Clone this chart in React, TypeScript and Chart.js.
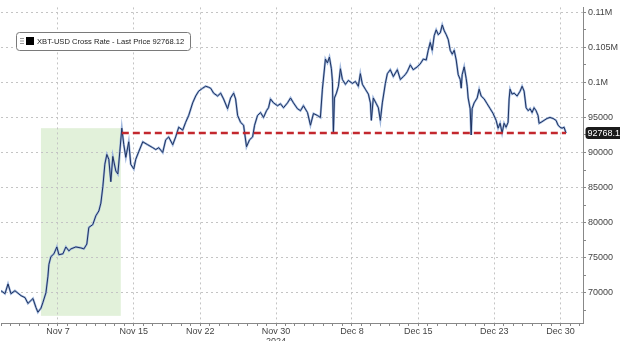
import React, { useEffect, useRef } from 'react';
import { Chart, registerables } from 'chart.js';

Chart.register(...registerables);

// Days since Nov 1, 2024 (fractional)
const days = [
  0, 0.42, 0.74, 1.05, 1.47, 2.11, 2.53, 2.84, 3.16, 3.37, 3.68, 3.89, 4.21, 4.42, 4.74, 4.95, 5.05, 5.26, 5.58, 5.89,
  6.11, 6.53, 6.84, 7.16, 7.37, 7.89, 8.42, 8.74, 9.05, 9.26, 9.68, 10.0, 10.32, 10.53, 10.74, 10.95, 11.16, 11.37, 11.58, 11.79,
  12.11, 12.32, 12.53, 12.74, 12.95, 13.16, 13.47, 13.68, 14.0, 14.21, 14.53, 14.95, 15.47, 16.0, 16.32, 16.63, 17.05, 17.37, 17.68, 18.11,
  18.42, 18.74, 19.16, 19.47, 19.79, 20.21, 20.53, 20.84, 21.26, 21.58, 21.89, 22.11, 22.42, 22.84, 23.16, 23.47, 23.89, 24.21, 24.53, 24.74,
  24.95, 25.26, 25.58, 25.89, 26.21, 26.53, 26.74, 27.05, 27.37, 27.68, 28.0, 28.21, 28.42, 28.74, 29.16, 29.47, 29.79, 30.21, 30.53, 30.84,
  31.26, 31.58, 31.89, 32.32, 32.63, 32.95, 33.37, 33.68, 33.89, 34.21, 34.42, 34.63, 34.84, 34.95, 35.05, 35.16, 35.37, 35.58, 35.79, 36.0,
  36.32, 36.63, 37.05, 37.37, 37.68, 37.89, 38.11, 38.42, 38.74, 38.95, 39.05, 39.26, 39.58, 39.79, 40.0, 40.21, 40.53, 40.74, 41.05, 41.37,
  41.79, 42.11, 42.42, 42.63, 42.84, 43.16, 43.47, 43.89, 44.21, 44.53, 44.84, 45.05, 45.26, 45.47, 45.68, 45.89, 46.11, 46.32, 46.53, 46.74,
  46.95, 47.16, 47.37, 47.58, 47.79, 48.0, 48.21, 48.42, 48.53, 48.63, 48.84, 49.05, 49.16, 49.26, 49.47, 49.58, 49.68, 49.89, 50.21, 50.42,
  50.63, 50.95, 51.26, 51.58, 51.89, 52.21, 52.42, 52.63, 52.84, 53.05, 53.26, 53.47, 53.58, 53.68, 53.89, 54.11, 54.42, 54.74, 54.95, 55.16,
  55.26, 55.37, 55.58, 55.79, 56.0, 56.21, 56.42, 56.63, 56.74, 56.95, 57.26, 57.58, 57.89, 58.21, 58.53, 58.74, 58.95, 59.16, 59.37, 59.58,
];

const prices = [
  70280, 69860, 71250, 69860, 70280, 69580, 69300, 68470, 68890, 69170, 67920, 67220, 67780, 68610, 70000, 72360, 74030, 75140, 75550, 76530,
  75420, 75550, 76530, 75970, 76250, 76530, 76390, 76250, 76940, 79310, 79720, 80970, 81670, 82780, 85140, 88330, 89720, 89030, 85830, 89440,
  87360, 86940, 90140, 93470, 91110, 89310, 91530, 88330, 87640, 89030, 90140, 91530, 91110, 90690, 90420, 90690, 90000, 91810, 92220, 91110,
  92220, 93610, 93190, 94310, 95280, 97080, 98060, 98750, 99170, 99450, 99310, 99170, 98470, 98060, 98470, 97640, 96250, 97780, 98470, 97640,
  95280, 94310, 93890, 90830, 91810, 92220, 93890, 95280, 95700, 95000, 95970, 96390, 97640, 97080, 96670, 96950, 96390, 97080, 97780, 97080,
  96250, 95970, 96670, 95700, 93890, 95560, 95280, 95000, 99030, 103330, 102780, 103610, 101950, 100140, 92780, 97780, 98470, 99450, 101950, 100420,
  99720, 100280, 99860, 100140, 99450, 101250, 99720, 99030, 98330, 97080, 94580, 97780, 96950, 96390, 94580, 97080, 99860, 101250, 101810, 100830,
  101810, 100420, 100830, 101110, 101530, 102500, 101810, 102220, 102640, 103330, 103200, 104580, 105700, 104580, 106670, 107500, 106810, 107080, 108200, 107360,
  106810, 106110, 104580, 104030, 104580, 103200, 101110, 100420, 99170, 101110, 102220, 100560, 99450, 97780, 96250, 92500, 96250, 97080, 97780, 99030,
  98060, 97640, 96950, 96250, 95560, 94580, 93470, 94170, 92780, 94170, 93610, 94310, 97640, 99030, 98330, 98470, 98060, 98750, 99450, 98750,
  97640, 96390, 95970, 96250, 95700, 96390, 95970, 95280, 94170, 94310, 94580, 94860, 95000, 94860, 94580, 93890, 93610, 93470, 93610, 92768.12,
];

const lastPrice = 92768.12;
const lastPriceLineDays = [12.74, 59.58];
const shadeDays = [4.21, 12.63];
const shadePrices = [66700, 93470];

const xTickDays = [6, 14, 21, 29, 37, 44, 52, 59];
const xTickLabels: (string | string[])[] = ['Nov 7', 'Nov 15', 'Nov 22', ['Nov 30', '2024'], 'Dec 8', 'Dec 15', 'Dec 23', 'Dec 30'];
const yTickValues = [70000, 75000, 80000, 85000, 90000, 95000, 100000, 105000, 110000];
const yTickLabels = ['70000', '75000', '80000', '85000', '90000', '95000', '0.1M', '0.105M', '0.11M'];
const legendText = 'XBT-USD Cross Rate - Last Price 92768.12';
const lastPriceLabel = '92768.12';

const FONT = "'Liberation Sans', Arial, sans-serif";

export default function App() {
  const ref = useRef<HTMLCanvasElement | null>(null);

  useEffect(() => {
    const canvas = ref.current;
    if (!canvas) return;
    Chart.defaults.font.family = FONT;

    const linePts = days.map((d, i) => ({ x: d, y: prices[i] }));
    const redPts = lastPriceLineDays.map((d) => ({ x: d, y: lastPrice }));

    const shadePlugin = {
      id: 'shade',
      beforeDraw(chart: any) {
        const { ctx, scales } = chart;
        const x0 = scales.x.getPixelForValue(shadeDays[0]);
        const x1 = scales.x.getPixelForValue(shadeDays[1]);
        const y0 = scales.y.getPixelForValue(shadePrices[1]);
        const y1 = scales.y.getPixelForValue(shadePrices[0]);
        ctx.save();
        ctx.fillStyle = '#e2f1da';
        ctx.fillRect(x0, y0, x1 - x0, y1 - y0);
        ctx.restore();
      },
    };

    const overlayPlugin = {
      id: 'overlay',
      afterDraw(chart: any) {
        const { ctx, scales } = chart;
        ctx.save();
        // legend box
        const bx = 16.5, by = 32.5, bw = 174, bh = 18;
        ctx.beginPath();
        ctx.roundRect(bx, by, bw, bh, 3);
        ctx.fillStyle = '#ffffff';
        ctx.fill();
        ctx.strokeStyle = '#7a7a7a';
        ctx.lineWidth = 1;
        ctx.stroke();
        // menu icon
        ctx.strokeStyle = '#999';
        ctx.lineWidth = 1;
        for (let i = 0; i < 3; i++) {
          ctx.beginPath();
          ctx.moveTo(20, 38.5 + i * 2.5);
          ctx.lineTo(24, 38.5 + i * 2.5);
          ctx.stroke();
        }
        ctx.fillStyle = '#000';
        ctx.fillRect(26, 37, 8, 8);
        ctx.fillStyle = '#222';
        ctx.font = `7.6px ${FONT}`;
        ctx.textBaseline = 'middle';
        ctx.textAlign = 'left';
        ctx.fillText(legendText, 37, 41.5);

        // last price label
        const yp = scales.y.getPixelForValue(lastPrice);
        ctx.beginPath();
        ctx.roundRect(585.5, yp - 6, 40, 12, 3);
        ctx.fillStyle = '#1b1b1b';
        ctx.fill();
        ctx.fillStyle = '#ffffff';
        ctx.font = `9px ${FONT}`;
        ctx.fillText(lastPriceLabel, 587.5, yp + 0.5);
        ctx.restore();
      },
    };

    const chart = new Chart(canvas, {
      type: 'line',
      data: {
        datasets: [
          {
            data: redPts,
            borderColor: '#c3282e',
            borderWidth: 2.5,
            borderDash: [7, 4],
            pointRadius: 0,
            tension: 0,
          },
          {
            data: linePts,
            borderColor: '#1e3260',
            borderWidth: 1,
            pointRadius: 0,
            tension: 0,
          },
          {
            data: linePts,
            borderColor: '#9fb7dd',
            borderWidth: 2.2,
            pointRadius: 0,
            tension: 0,
          },
        ],
      },
      options: {
        animation: false,
        responsive: false,
        devicePixelRatio: 1,
        parsing: false as any,
        layout: { padding: 0 },
        plugins: {
          legend: { display: false },
          tooltip: { enabled: false },
        },
        scales: {
          x: {
            type: 'linear',
            min: 0,
            max: 61.37,
            afterBuildTicks: (s: any) => {
              const t: any[] = [];
              for (let i = 0; i <= 61; i++) t.push({ value: i });
              s.ticks = t;
            },
            afterFit: (s: any) => {
              s.height = 18;
            },
            ticks: {
              autoSkip: false,
              maxRotation: 0,
              minRotation: 0,
              padding: 1,
              color: '#444',
              font: { size: 9, lineHeight: 1.05 },
              callback: (v: any) => {
                const i = xTickDays.indexOf(v);
                return i >= 0 ? (xTickLabels[i] as any) : '';
              },
            },
            grid: {
              color: (c: any) => (c.tick && xTickDays.includes(c.tick.value) ? '#c4c4c4' : 'rgba(0,0,0,0)'),
              tickColor: '#888',
              tickLength: 3,
              lineWidth: 1,
            },
            border: { display: true, color: '#888', width: 1, dash: [2, 3] },
          },
          y: {
            type: 'linear',
            position: 'right',
            min: 65680,
            max: 110700,
            afterBuildTicks: (s: any) => {
              const t: any[] = [];
              yTickValues.forEach((v) => {
                t.push({ value: v - 2500 });
                t.push({ value: v });
              });
              s.ticks = t;
            },
            afterFit: (s: any) => {
              s.width = 37;
            },
            ticks: {
              padding: 2,
              color: '#444',
              font: { size: 9 },
              callback: (v: any) => {
                const i = yTickValues.indexOf(v);
                return i >= 0 ? yTickLabels[i] : '';
              },
            },
            grid: {
              color: (c: any) => (c.tick && yTickValues.includes(c.tick.value) ? '#c4c4c4' : 'rgba(0,0,0,0)'),
              tickColor: '#888',
              tickLength: 3,
              lineWidth: 1,
            },
            border: { display: true, color: '#888', width: 1, dash: [2, 3] },
          },
        },
      },
      plugins: [shadePlugin, overlayPlugin],
    });

    return () => chart.destroy();
  }, []);

  return (
    <div style={{ position: 'fixed', left: 0, top: 0, width: 620, height: 341, background: '#fff' }}>
      <canvas ref={ref} width={620} height={341} style={{ width: 620, height: 341, display: 'block' }} />
    </div>
  );
}
